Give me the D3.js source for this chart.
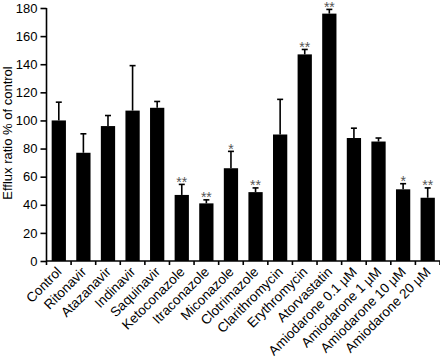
<!DOCTYPE html>
<html><head><meta charset="utf-8">
<script src="https://cdn.jsdelivr.net/npm/d3@7"></script>
<style>body{margin:0;background:#fff}svg{display:block}text{font-family:"Liberation Sans",Arial,sans-serif}</style>
</head><body>
<svg id="c" width="440" height="358"></svg>
<script>
const categories = ["Control","Ritonavir","Atazanavir","Indinavir","Saquinavir","Ketoconazole","Itraconazole","Miconazole","Clotrimazole","Clarithromycin","Erythromycin","Atorvastatin","Amiodarone 0.1 \u00b5M","Amiodarone 1 \u00b5M","Amiodarone 10 \u00b5M","Amiodarone 20 \u00b5M"];
const values = [100,77,96,107,109,47,41,66,49,90,147,176,87.5,85,51,45];
const errors = [13,13.5,7.5,32,4.5,7.5,2.5,12,3,25,3.5,3,7,2.5,4,7];
const significance = ["","","","","","**","**","*","**","","**","**","","","*","**"];
const yTicks = [0,20,40,60,80,100,120,140,160,180];

const svg = d3.select("#c");
const x = d3.scaleBand().domain(categories).range([46.5,440]).paddingInner(0.42).paddingOuter(0.21);
const y = d3.scaleLinear().domain([0,180]).range([261,8]);
const step = x.step();

// bars
svg.append("g").selectAll("rect").data(categories).join("rect")
  .attr("x", d=>x(d)).attr("width", x.bandwidth())
  .attr("y", (d,i)=>y(values[i])).attr("height", (d,i)=>y(0)-y(values[i]))
  .attr("fill","#000");

// error bars
const eg = svg.append("g").attr("stroke","#000").attr("stroke-width",1.6);
categories.forEach((c,i)=>{
  const cx = x(c)+x.bandwidth()/2;
  eg.append("line").attr("x1",cx).attr("x2",cx).attr("y1",y(values[i])).attr("y2",y(values[i]+errors[i]));
  eg.append("line").attr("x1",cx-3).attr("x2",cx+3).attr("y1",y(values[i]+errors[i])).attr("y2",y(values[i]+errors[i]));
});

// significance
svg.append("g").selectAll("text").data(categories).join("text")
  .attr("x", d=>x(d)+x.bandwidth()/2)
  .attr("y", (d,i)=>y(values[i]+errors[i])+2.5)
  .attr("text-anchor","middle").attr("font-size",14).attr("fill","#555")
  .text((d,i)=>significance[i]);

// y axis
const ya = svg.append("g").attr("transform","translate(46.5,0)")
  .call(d3.axisLeft(y).tickValues(yTicks).tickSize(6).tickPadding(3));
ya.select(".domain").attr("stroke-width",1.6).attr("d","M0,"+y(180)+"V"+y(0));
ya.selectAll(".tick line").attr("stroke-width",1.6);
ya.selectAll(".tick text").attr("font-size",13).attr("fill","#000").style("font-family","Liberation Sans, Arial, sans-serif");

// x axis
const xg = svg.append("g");
xg.append("line").attr("x1",46.5).attr("x2",440).attr("y1",y(0)).attr("y2",y(0)).attr("stroke","#000").attr("stroke-width",1.6);
categories.forEach((c,i)=>{
  const tx = x(c) + x.bandwidth() + step*0.21;
  xg.append("line").attr("x1",tx).attr("x2",tx).attr("y1",y(0)).attr("y2",y(0)+4).attr("stroke","#000").attr("stroke-width",1.6);
});
xg.append("line").attr("x1",46.5).attr("x2",46.5).attr("y1",y(0)).attr("y2",y(0)+4).attr("stroke","#000").attr("stroke-width",1.6);
xg.selectAll("text").data(categories).join("text")
  .attr("transform", d=>`translate(${x(d)+x.bandwidth()/2-3},${y(0)+5}) rotate(-45)`)
  .attr("text-anchor","end").attr("dy","0.7em").attr("font-size",13.5).attr("fill","#000")
  .text(d=>d);

// y label
svg.append("text").attr("transform","translate(12,133) rotate(-90)")
  .attr("text-anchor","middle").attr("font-size",13).attr("fill","#000")
  .text("Efflux ratio % of control");
</script>
</body></html>
